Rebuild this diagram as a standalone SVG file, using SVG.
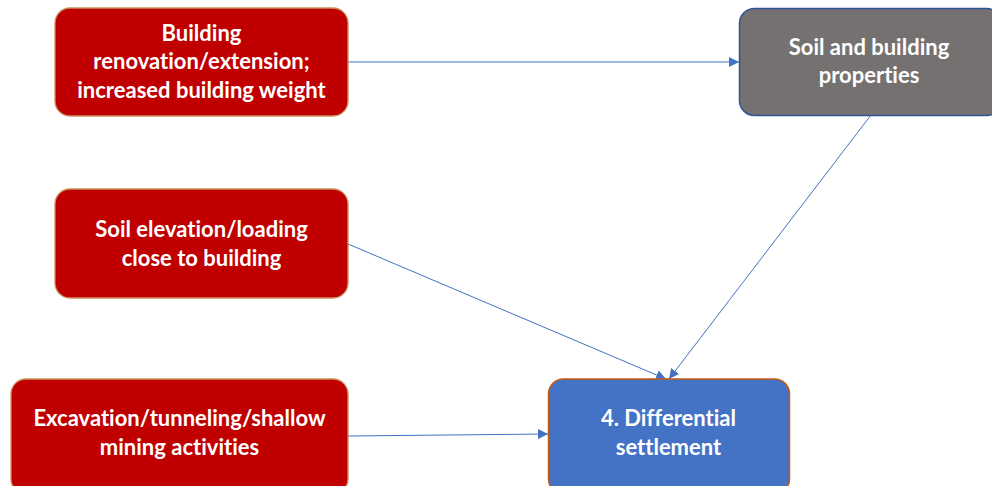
<svg xmlns="http://www.w3.org/2000/svg" width="992" height="486" viewBox="0 0 992 486">
<style>
.red{fill:#C00000;stroke:#C9925B;stroke-width:1.3}
.grey{fill:#767171;stroke:#2F5597;stroke-width:1.5}
.blue{fill:#4472C4;stroke:#C55A11;stroke-width:1.5}
text{font-family:Lato,"Open Sans","Liberation Sans",sans-serif;font-weight:bold;font-size:22px;fill:#FFFFFF;text-anchor:middle;font-variant-ligatures:none}
.conn line{stroke:#4472C4;stroke-width:1;fill:none}
</style>
<defs>
<marker id="ah" viewBox="0 0 10 10" refX="10" refY="5" markerWidth="10" markerHeight="10" markerUnits="userSpaceOnUse" orient="auto">
<path d="M0,0 L10,5 L0,10 z" fill="#4472C4"/>
</marker>
</defs>
<rect width="992" height="486" fill="#FFFFFF"/>
<g class="conn">
<line x1="348" y1="62" x2="739" y2="62" marker-end="url(#ah)"/>
<line x1="871" y1="115" x2="669" y2="379" marker-end="url(#ah)"/>
<line x1="348" y1="244" x2="666" y2="379" marker-end="url(#ah)"/>
<line x1="348" y1="436" x2="548" y2="434" marker-end="url(#ah)"/>
</g>
<g id="n1">
<rect class="red" x="55" y="8" width="293" height="108" rx="15"/>
<text x="201.5" y="41">Building</text>
<text x="201.5" y="69">renovation/extension;</text>
<text x="201.5" y="98">increased building weight</text>
</g>
<g id="n2">
<rect class="grey" x="739.5" y="8.5" width="262" height="107" rx="15"/>
<text x="869" y="55">Soil and building</text>
<text x="869" y="83">properties</text>
</g>
<g id="n3">
<rect class="red" x="55" y="189" width="293" height="109" rx="15"/>
<text x="201.5" y="237">Soil elevation/loading</text>
<text x="201.5" y="266">close to building</text>
</g>
<g id="n4">
<rect class="red" x="11" y="379" width="337" height="115" rx="15"/>
<text x="179.5" y="426">Excavation/tunneling/shallow</text>
<text x="179.5" y="455">mining activities</text>
</g>
<g id="n5">
<rect class="blue" x="548.5" y="379" width="241" height="115" rx="15"/>
<text x="668.5" y="426">4. Differential</text>
<text x="668.5" y="455">settlement</text>
</g>
</svg>
